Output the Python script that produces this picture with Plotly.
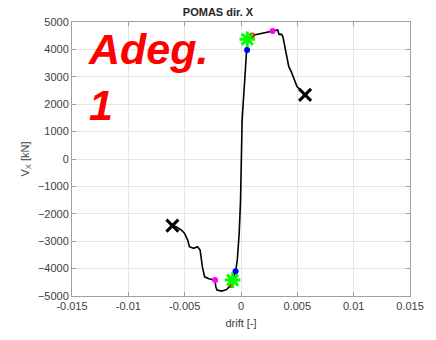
import plotly.graph_objects as go

# Pushover curve (drift [-], V_X [kN])
drift = [-0.00609, -0.00575, -0.00531, -0.00502, -0.00473, -0.00458, -0.00421, -0.00386,
         -0.00363, -0.00343, -0.00323, -0.00285, -0.0023, -0.00224, -0.00213, -0.0017,
         -0.00126, -0.00089, -0.00074, -0.00048, -0.00033, -0.00016, -0.00004, 0.0,
         0.0001, 0.00033, 0.00048, 0.00054, 0.00056, 0.00097, 0.0028, 0.00308, 0.00326,
         0.00337, 0.0036, 0.00372, 0.00395, 0.00424, 0.00447, 0.00497, 0.0054, 0.00569]
shear = [-2430, -2470, -2590, -2710, -2960, -3200, -3260, -3200,
         -3320, -3930, -4300, -4370, -4420, -4660, -4780, -4820,
         -4760, -4600, -4420, -4100, -3690, -2700, -1500, 0,
         1420, 2880, 3870, 3980, 4370, 4510, 4670, 4710, 4710,
         4550, 4550, 4460, 3980, 3370, 3180, 2640, 2460, 2340]

# Special points
end_x = [-0.00609, 0.00569]
end_y = [-2430, 2340]
blue_x = [-0.00048, 0.00054]
blue_y = [-4100, 3980]
red_x = [-0.00089, 0.00097]
red_y = [-4600, 4510]
mag_x = [-0.0023, 0.0028]
mag_y = [-4420, 4670]
star_x = [-0.00074, 0.00056]
star_y = [-4420, 4370]

x_ticks = [-0.015, -0.01, -0.005, 0, 0.005, 0.01, 0.015]
x_tick_labels = ["-0.015", "-0.01", "-0.005", "0", "0.005", "0.01", "0.015"]
y_ticks = [-5000, -4000, -3000, -2000, -1000, 0, 1000, 2000, 3000, 4000, 5000]

fig = go.Figure()
fig.add_trace(go.Scatter(x=drift, y=shear, mode="lines",
                         line=dict(color="black", width=1.6), showlegend=False))
fig.add_trace(go.Scatter(x=end_x, y=end_y, mode="markers",
                         marker=dict(symbol="x-thin", size=12, line=dict(color="black", width=3)),
                         showlegend=False))
fig.add_trace(go.Scatter(x=red_x, y=red_y, mode="markers",
                         marker=dict(color="red", size=6), showlegend=False))
fig.add_trace(go.Scatter(x=mag_x, y=mag_y, mode="markers",
                         marker=dict(color="magenta", size=6), showlegend=False))
fig.add_trace(go.Scatter(x=star_x, y=star_y, mode="markers",
                         marker=dict(symbol="asterisk", size=13, line=dict(color="#00ff00", width=3)),
                         showlegend=False))
fig.add_trace(go.Scatter(x=blue_x, y=blue_y, mode="markers",
                         marker=dict(color="blue", size=6), showlegend=False))

axis_common = dict(showgrid=True, gridcolor="#e6e6e6", gridwidth=1,
                   showline=True, linecolor="#a0a0a0", linewidth=1, mirror="ticks",
                   ticks="inside", ticklen=4, tickcolor="#a0a0a0", zeroline=False,
                   tickfont=dict(family="Liberation Sans", size=11, color="#404040"))

fig.update_layout(
    width=436, height=340,
    margin=dict(l=72, r=19, t=22, b=44),
    paper_bgcolor="white", plot_bgcolor="white",
    title=dict(text="<b>POMAS dir. X</b>", x=0.5, xanchor="center", y=1, yanchor="top",
               yref="container", pad=dict(t=8),
               font=dict(family="Liberation Sans", size=11, color="#262626")),
    xaxis=dict(range=[-0.015, 0.015], tickvals=x_ticks, ticktext=x_tick_labels,
               title=dict(text="drift [-]", standoff=8,
                          font=dict(family="Liberation Sans", size=11, color="#404040")),
               **axis_common),
    yaxis=dict(range=[-5000, 5000], tickvals=y_ticks,
               title=dict(text="V<sub>X</sub> [kN]", standoff=6,
                          font=dict(family="Liberation Sans", size=11, color="#404040")),
               **axis_common),
    annotations=[dict(text="<b><i>Adeg.<br>1</i></b>", xref="paper", yref="paper",
                      x=0.04, y=0.995, xanchor="left", yanchor="top", align="left",
                      showarrow=False,
                      font=dict(family="Liberation Sans", size=43, color="red"))],
)

fig.write_html("out.html")
